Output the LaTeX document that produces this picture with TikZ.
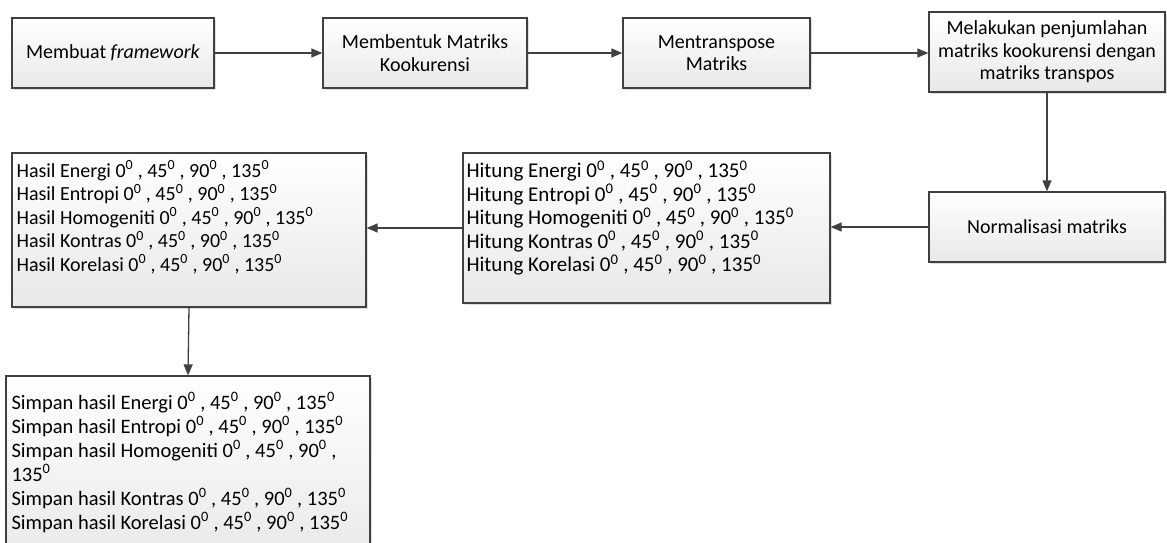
\documentclass[tikz,border=0pt]{standalone}
\usepackage{fontspec}
\setmainfont{Carlito}
\usetikzlibrary{arrows.meta,shadows}

\definecolor{edgegray}{HTML}{404040}
\newcommand{\dg}[1]{#1\textsuperscript{0}}
\newcommand{\sudut}{\dg{0} , \dg{45} , \dg{90} , \dg{135}}

\begin{document}
\begin{tikzpicture}[x=1pt,y=-1pt,
    procBox/.style={rectangle,draw=edgegray,line width=1.3pt,
      top color=white,bottom color=black!9,
      drop shadow={opacity=0.25,shadow xshift=2pt,shadow yshift=-2pt},
      align=center,inner sep=2pt,font=\fontsize{20}{22.5}\selectfont},
    listText/.style={anchor=north west,align=left,inner sep=0pt},
    flowArrow/.style={draw=edgegray,line width=1.3pt,
      -{Triangle[length=11pt,width=9pt]}}]
  \useasboundingbox (0,0) rectangle (1167,542);
  \clip (0,0) rectangle (1167,542);

  % baris atas
  \node [procBox,minimum width=202pt,minimum height=70pt] (framework) at (113,53)
    {Membuat \textit{framework}};
  \node [procBox,minimum width=204pt,minimum height=70pt] (kookurensi) at (425,53)
    {Membentuk Matriks\\Kookurensi};
  \node [procBox,minimum width=187pt,minimum height=70pt] (transpose) at (716.5,53)
    {Mentranspose\\Matriks};
  \node [procBox,minimum width=236pt,minimum height=80pt] (jumlah) at (1047,52)
    {Melakukan penjumlahan\\matriks kookurensi dengan\\matriks transpos};

  % baris tengah
  \node [procBox,minimum width=236pt,minimum height=70pt] (normal) at (1047,227)
    {Normalisasi matriks};
  \node [procBox,minimum width=367pt,minimum height=150pt] (hitung) at (646.5,228) {};
  \node [listText,font=\fontsize{21}{23.5}\selectfont] (hitungTeks)
    at ([xshift=4pt,yshift=-8pt]hitung.north west)
    {Hitung Energi \sudut\\Hitung Entropi \sudut\\Hitung Homogeniti \sudut\\
     Hitung Kontras \sudut\\Hitung Korelasi \sudut};
  \node [procBox,minimum width=354pt,minimum height=154pt] (hasil) at (189,230) {};
  \node [listText,font=\fontsize{20}{23.5}\selectfont] (hasilTeks)
    at ([xshift=5pt,yshift=-8pt]hasil.north west)
    {Hasil Energi \sudut\\Hasil Entropi \sudut\\Hasil Homogeniti \sudut\\
     Hasil Kontras \sudut\\Hasil Korelasi \sudut};

  % bawah
  \node [procBox,minimum width=364pt,minimum height=190pt] (simpan) at (188,471) {};
  \node [listText,font=\fontsize{20.5}{24}\selectfont] (simpanTeks)
    at ([xshift=6pt,yshift=-17pt]simpan.north west)
    {Simpan hasil Energi \sudut\\Simpan hasil Entropi \sudut\\
     Simpan hasil Homogeniti \dg{0} , \dg{45} , \dg{90} ,\\\dg{135}\\
     Simpan hasil Kontras \sudut\\Simpan hasil Korelasi \sudut};

  \draw [flowArrow] (framework) -- (kookurensi);
  \draw [flowArrow] (kookurensi) -- (transpose);
  \draw [flowArrow] (transpose.east) -- (transpose.east -| jumlah.west);
  \draw [flowArrow] (jumlah.south -| normal.north) -- (normal.north);
  \draw [flowArrow] (normal.west) -- (normal.west -| hitung.east);
  \draw [flowArrow] (hitung.west) -- (hitung.west -| hasil.east);
  \draw [flowArrow] (hasil.south) -- (simpan.north);
\end{tikzpicture}
\end{document}
